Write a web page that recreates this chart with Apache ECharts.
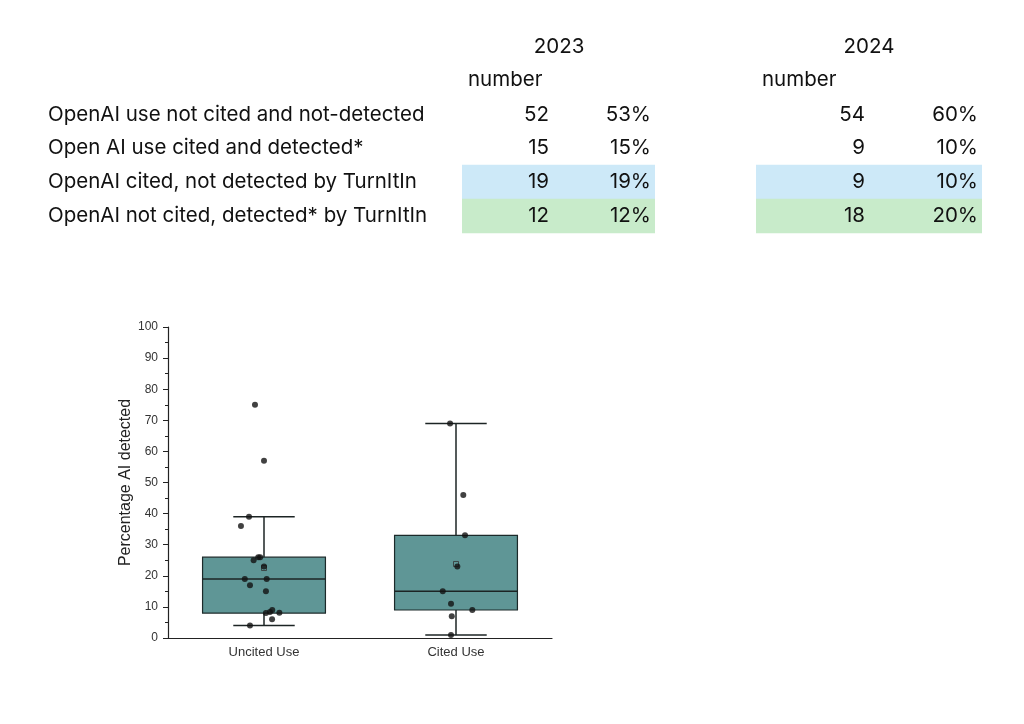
<!DOCTYPE html>
<html>
<head>
<meta charset="utf-8">
<script src="https://cdn.jsdelivr.net/npm/echarts@6/dist/echarts.min.js"></script>
<style>
html,body{margin:0;padding:0;background:#fff;}
#main{width:1024px;height:724px;}
</style>
</head>
<body>
<div id="main"></div>
<script>
// ---- Table data ----
const years = ['2023', '2024'];
const subHeader = 'number';
const rowLabels = [
  'OpenAI use not cited and not-detected',
  'Open AI use cited and detected*',
  'OpenAI cited, not detected by TurnItIn',
  'OpenAI not cited, detected* by TurnItIn'
];
const counts2023 = [52, 15, 19, 12];
const pct2023 = ['53%', '15%', '19%', '12%'];
const counts2024 = [54, 9, 9, 18];
const pct2024 = ['60%', '10%', '10%', '20%'];
const rowFills = [null, null, '#cde9f8', '#c8ebca'];

// ---- Box plot data ----
const boxCategories = ['Uncited Use', 'Cited Use'];
// [min, Q1, median, Q3, max]
const boxStats = [
  [4, 8, 19, 26, 39],
  [1, 9, 15, 33, 69]
];
const boxMeans = [22.5, 23.8];
const uncitedValues = [75, 57, 39, 36, 26, 26, 25, 23, 19, 19, 17, 15, 9, 8.4, 8, 8.1, 6, 4];
const uncitedJitter = [-0.047, 0, -0.078, -0.12, -0.03, -0.02, -0.054, 0, -0.10, 0.014, -0.073, 0.01, 0.043, 0.031, 0.01, 0.08, 0.042, -0.073];
const citedValues = [69, 46, 33, 23, 15, 11, 9, 7, 1];
const citedJitter = [-0.031, 0.038, 0.047, 0.007, -0.069, -0.026, 0.085, -0.022, -0.026];
const yTicks = {min: 0, max: 100, interval: 10};
const yAxisTitle = 'Percentage AI detected';

// ---- Layout of the table (positions only) ----
const tableFont = '20.5px Inter, "Liberation Sans", Arial, sans-serif';
const rowY = [115, 148, 182, 216];
const rowH = 34.5;
const labelX = 48;
const yearCols = [
  {yearX: 559, numLabelX: 468, countRight: 549, pctRight: 651, fillX: 462, fillW: 193},
  {yearX: 869, numLabelX: 762, countRight: 865, pctRight: 978, fillX: 756, fillW: 226}
];
const yearCounts = [counts2023, counts2024];
const yearPcts = [pct2023, pct2024];

const graphics = [];
yearCols.forEach((col, yi) => {
  rowFills.forEach((f, ri) => {
    if (f) graphics.push({type: 'rect', z: 1, shape: {x: col.fillX, y: rowY[ri] - rowH / 2, width: col.fillW, height: rowH}, style: {fill: f}});
  });
  graphics.push({type: 'text', z: 2, x: col.yearX, y: 47, style: {text: years[yi], font: tableFont, fill: '#111', textAlign: 'center', textVerticalAlign: 'middle'}});
  graphics.push({type: 'text', z: 2, x: col.numLabelX, y: 80, style: {text: subHeader, font: tableFont, fill: '#111', textAlign: 'left', textVerticalAlign: 'middle'}});
  rowLabels.forEach((_, ri) => {
    graphics.push({type: 'text', z: 2, x: col.countRight, y: rowY[ri], style: {text: String(yearCounts[yi][ri]), font: tableFont, fill: '#111', textAlign: 'right', textVerticalAlign: 'middle'}});
    graphics.push({type: 'text', z: 2, x: col.pctRight, y: rowY[ri], style: {text: yearPcts[yi][ri], font: tableFont, fill: '#111', textAlign: 'right', textVerticalAlign: 'middle'}});
  });
});
rowLabels.forEach((lab, ri) => {
  graphics.push({type: 'text', z: 2, x: labelX, y: rowY[ri], style: {text: lab, font: tableFont, fill: '#111', textAlign: 'left', textVerticalAlign: 'middle'}});
});

function renderBox(params, api) {
  const c = api.value(0);
  const lo = api.coord([c, api.value(1)]);
  const q1 = api.coord([c, api.value(2)]);
  const md = api.coord([c, api.value(3)]);
  const q3 = api.coord([c, api.value(4)]);
  const hi = api.coord([c, api.value(5)]);
  const bw = api.size([1, 0])[0];
  const half = bw * 0.32, cap = bw * 0.16;
  const x = lo[0];
  const ls = {stroke: '#1c2424', lineWidth: 1.5};
  return {
    type: 'group',
    children: [
      {type: 'line', shape: {x1: x, y1: q3[1], x2: x, y2: hi[1]}, style: ls},
      {type: 'line', shape: {x1: x, y1: q1[1], x2: x, y2: lo[1]}, style: ls},
      {type: 'line', shape: {x1: x - cap, y1: hi[1], x2: x + cap, y2: hi[1]}, style: ls},
      {type: 'line', shape: {x1: x - cap, y1: lo[1], x2: x + cap, y2: lo[1]}, style: ls},
      {type: 'rect', shape: {x: x - half, y: q3[1], width: half * 2, height: q1[1] - q3[1]}, style: {fill: '#5f9696', stroke: '#1c2a2a', lineWidth: 1.2}},
      {type: 'line', shape: {x1: x - half, y1: md[1], x2: x + half, y2: md[1]}, style: ls}
    ]
  };
}

const axisFont = '"Liberation Sans", Arial, sans-serif';
const chart = echarts.init(document.getElementById('main'), null, {renderer: 'canvas'});
chart.setOption({
  backgroundColor: '#ffffff',
  animation: false,
  graphic: graphics,
  grid: {left: 168, top: 327, width: 384, height: 311, containLabel: false},
  xAxis: [
    {
      type: 'category', data: boxCategories, boundaryGap: true,
      axisLine: {onZero: false, lineStyle: {color: '#222', width: 1.2}},
      axisTick: {alignWithLabel: true, length: 4, lineStyle: {color: '#222'}},
      axisLabel: {color: '#333', fontSize: 13, fontFamily: axisFont, margin: 8},
      splitLine: {show: false}
    },
    {type: 'value', min: -0.5, max: 1.5, show: false}
  ],
  yAxis: {
    type: 'value', min: yTicks.min, max: yTicks.max, interval: yTicks.interval,
    name: yAxisTitle, nameLocation: 'middle', nameGap: 33, nameRotate: 90,
    nameTextStyle: {color: '#222', fontSize: 16, fontFamily: axisFont},
    axisLine: {show: true, onZero: false, lineStyle: {color: '#222', width: 1.2}},
    axisTick: {show: true, inside: false, length: 5, lineStyle: {color: '#222'}},
    minorTick: {show: true, splitNumber: 2, length: 3, lineStyle: {color: '#222'}},
    axisLabel: {color: '#333', fontSize: 12, fontFamily: axisFont, margin: 10},
    splitLine: {show: false}
  },
  series: [
    {
      type: 'custom', xAxisIndex: 0, yAxisIndex: 0, z: 2,
      renderItem: renderBox,
      encode: {x: 0, y: [1, 2, 3, 4, 5]},
      data: boxStats.map((s, i) => [i].concat(s))
    },
    {
      type: 'scatter', xAxisIndex: 1, yAxisIndex: 0, z: 3,
      symbol: 'rect', symbolSize: 5,
      itemStyle: {color: 'rgba(0,0,0,0)', borderColor: '#333', borderWidth: 1},
      data: boxMeans.map((m, i) => [i, m])
    },
    {
      type: 'scatter', xAxisIndex: 1, yAxisIndex: 0, z: 4,
      symbol: 'circle', symbolSize: 6, itemStyle: {color: '#111'},
      data: uncitedValues.map((v, i) => [0 + uncitedJitter[i], v])
    },
    {
      type: 'scatter', xAxisIndex: 1, yAxisIndex: 0, z: 4,
      symbol: 'circle', symbolSize: 6, itemStyle: {color: '#111'},
      data: citedValues.map((v, i) => [1 + citedJitter[i], v])
    }
  ]
});
</script>
</body>
</html>
